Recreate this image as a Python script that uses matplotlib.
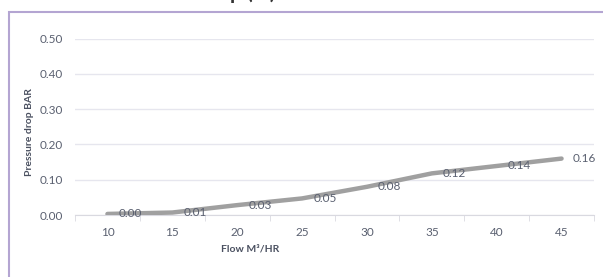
import matplotlib
matplotlib.use("Agg")
import matplotlib.pyplot as plt
from matplotlib.patches import Rectangle

# data
flow = [10, 15, 20, 25, 30, 35, 40, 45]
drop = [0.003, 0.007, 0.028, 0.047, 0.080, 0.118, 0.139, 0.160]
yticks = [0.0, 0.1, 0.2, 0.3, 0.4, 0.5]

W, H = 603, 277
plt.rcParams['font.family'] = ['Lato', 'DejaVu Sans']

fig = plt.figure(figsize=(W / 100, H / 100), dpi=100)
ax = fig.add_axes([75 / W, (H - 215) / H, (594 - 75) / W, (215 - 38.7) / H])

x = list(range(len(flow)))
ax.plot(x, drop, color='#a0a0a0', lw=3.2, solid_capstyle='round',
        solid_joinstyle='round', zorder=3)

for xi, v in zip(x, drop):
    ax.annotate(f"{v:.2f}", (xi, v), xytext=(8, 0), textcoords='offset points',
                ha='left', va='center', fontsize=8.5, color='#5a6070', zorder=4)

ax.set_xlim(-0.5, len(flow) - 0.5)
ax.set_ylim(0, 0.5)
ax.set_xticks(x)
ax.set_xticklabels([str(f) for f in flow])
ax.set_xticks([i - 0.5 for i in range(len(flow) + 1)], minor=True)
ax.set_yticks(yticks)
ax.set_yticklabels([f"{t:.2f}" for t in yticks])

ax.grid(axis='y', color='#e6e6ee', lw=1)
ax.set_axisbelow(True)
for s in ['top', 'right', 'left']:
    ax.spines[s].set_visible(False)
ax.spines['bottom'].set_color('#d9d9e0')
ax.tick_params(axis='x', which='major', length=0, pad=9, labelsize=8.5,
               labelcolor='#5a6070')
ax.tick_params(axis='x', which='minor', length=4, color='#d9d9e0')
ax.tick_params(axis='y', length=0, pad=9, labelsize=8.5, labelcolor='#5a6070')

fig.text(30 / W, 1 - 132 / H, "Pressure drop BAR", rotation=90, ha='center',
         va='center', fontsize=7.5, fontweight='bold', color='#4a5060')
fig.text(250 / W, 1 - 249 / H, "Flow M³/HR", ha='center', va='center',
         fontsize=7.5, fontweight='bold', color='#4a5060')

# title, cut off by the top edge: only descenders show
fig.text(275 / W, 1 + 1 / H, "Pressure Drop (%)", ha='right', va='baseline',
         fontsize=15, fontweight='bold', color='#333333')

# purple chart border
fig.add_artist(Rectangle((9 / W, -0.1), 1.2, 1 - 12 / H + 0.1,
                         transform=fig.transFigure, fill=False,
                         edgecolor='#b4a5d2', lw=1.5))

fig.savefig("out.png", dpi=100)
